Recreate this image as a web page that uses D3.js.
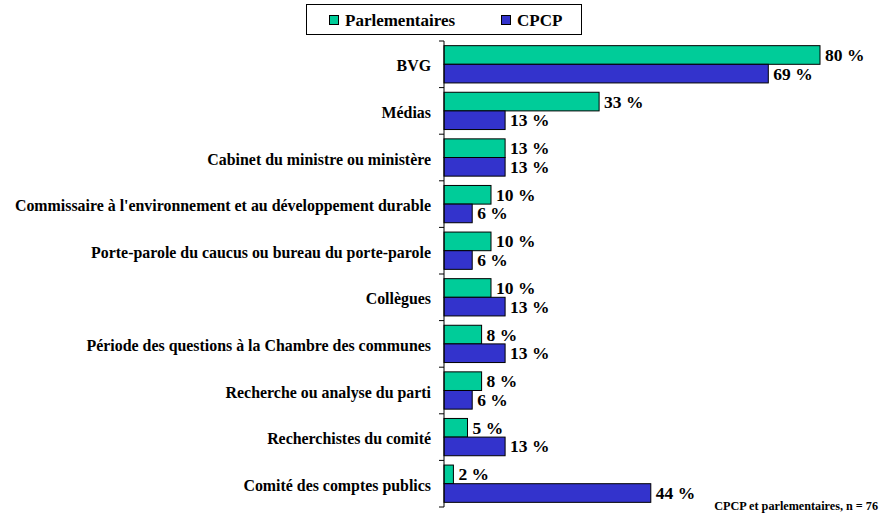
<!DOCTYPE html>
<html>
<head>
<meta charset="utf-8">
<script src="https://cdn.jsdelivr.net/npm/d3@7"></script>
<style>
  body { margin: 0; background: #fff; }
</style>
</head>
<body>
<div id="chart"></div>
<script>
// Data
const categories = [
  "BVG",
  "Médias",
  "Cabinet du ministre ou ministère",
  "Commissaire à l'environnement et au développement durable",
  "Porte-parole du caucus ou bureau du porte-parole",
  "Collègues",
  "Période des questions à la Chambre des communes",
  "Recherche ou analyse du parti",
  "Recherchistes du comité",
  "Comité des comptes publics"
];
const seriesNames = ["Parlementaires", "CPCP"];
const parlementaires = [80, 33, 13, 10, 10, 10, 8, 8, 5, 2];
const cpcp = [69, 13, 13, 6, 6, 13, 13, 6, 13, 44];
const colors = ["#00CC99", "#3333CC"];
const footnote = "CPCP et parlementaires, n = 76";

const width = 883, height = 514;
const FONT = "'Liberation Serif', 'Times New Roman', serif";

const svg = d3.select("#chart").append("svg")
  .attr("width", width)
  .attr("height", height)
  .attr("font-family", FONT)
  .attr("font-weight", "bold");

// Scales
const x = d3.scaleLinear().domain([0, 80]).range([444, 820]);
const y = d3.scaleBand().domain(categories).range([41, 507])
  .paddingInner(0.2).paddingOuter(0.1);
const ySub = d3.scaleBand().domain(seriesNames).range([0, y.bandwidth()]);

const data = categories.map((c, i) => ({
  cat: c,
  values: [
    { s: seriesNames[0], v: parlementaires[i] },
    { s: seriesNames[1], v: cpcp[i] }
  ]
}));

// Category labels
svg.append("g").selectAll("text")
  .data(categories)
  .join("text")
  .attr("x", 431)
  .attr("y", d => y(d) + y.bandwidth() / 2 + 7)
  .attr("text-anchor", "end")
  .attr("font-family", FONT)
  .attr("font-size", 15.9)
  .text(d => d);

// Bars
const groups = svg.append("g").selectAll("g")
  .data(data)
  .join("g")
  .attr("transform", d => `translate(0,${y(d.cat)})`);

groups.selectAll("rect")
  .data(d => d.values)
  .join("rect")
  .attr("x", x(0))
  .attr("y", d => ySub(d.s))
  .attr("width", d => x(d.v) - x(0))
  .attr("height", ySub.bandwidth())
  .attr("fill", (d, i) => colors[i])
  .attr("stroke", "#000")
  .attr("stroke-width", 1);

groups.selectAll("text")
  .data(d => d.values)
  .join("text")
  .attr("x", d => x(d.v) + 5)
  .attr("y", d => ySub(d.s) + ySub.bandwidth() / 2 + 6)
  .attr("font-family", FONT)
  .attr("font-size", 17.5)
  .text(d => d.v + " %");

// Axis line + ticks at band boundaries
const tickYs = d3.range(categories.length + 1).map(i => 41 + i * (466 / categories.length));
svg.append("line")
  .attr("x1", x(0)).attr("x2", x(0))
  .attr("y1", 41).attr("y2", 507)
  .attr("stroke", "#000");
svg.append("g").selectAll("line")
  .data(tickYs)
  .join("line")
  .attr("x1", x(0) - 5).attr("x2", x(0))
  .attr("y1", d => d).attr("y2", d => d)
  .attr("stroke", "#000");

// Legend
const legend = svg.append("g");
legend.append("rect")
  .attr("x", 306.5).attr("y", 4.5)
  .attr("width", 275).attr("height", 30)
  .attr("fill", "#fff")
  .attr("stroke", "#000");
const legendX = [329, 501];
seriesNames.forEach((s, i) => {
  legend.append("rect")
    .attr("x", legendX[i] + 0.5).attr("y", 15.5)
    .attr("width", 9).attr("height", 9)
    .attr("fill", colors[i])
    .attr("stroke", "#000");
  legend.append("text")
    .attr("x", legendX[i] + 16)
    .attr("y", 26)
    .attr("font-family", FONT)
    .attr("font-size", 17)
    .text(s);
});

// Footnote
svg.append("text")
  .attr("x", 878)
  .attr("y", 510)
  .attr("text-anchor", "end")
  .attr("font-family", FONT)
  .attr("font-size", 12.2)
  .text(footnote);
</script>
</body>
</html>
